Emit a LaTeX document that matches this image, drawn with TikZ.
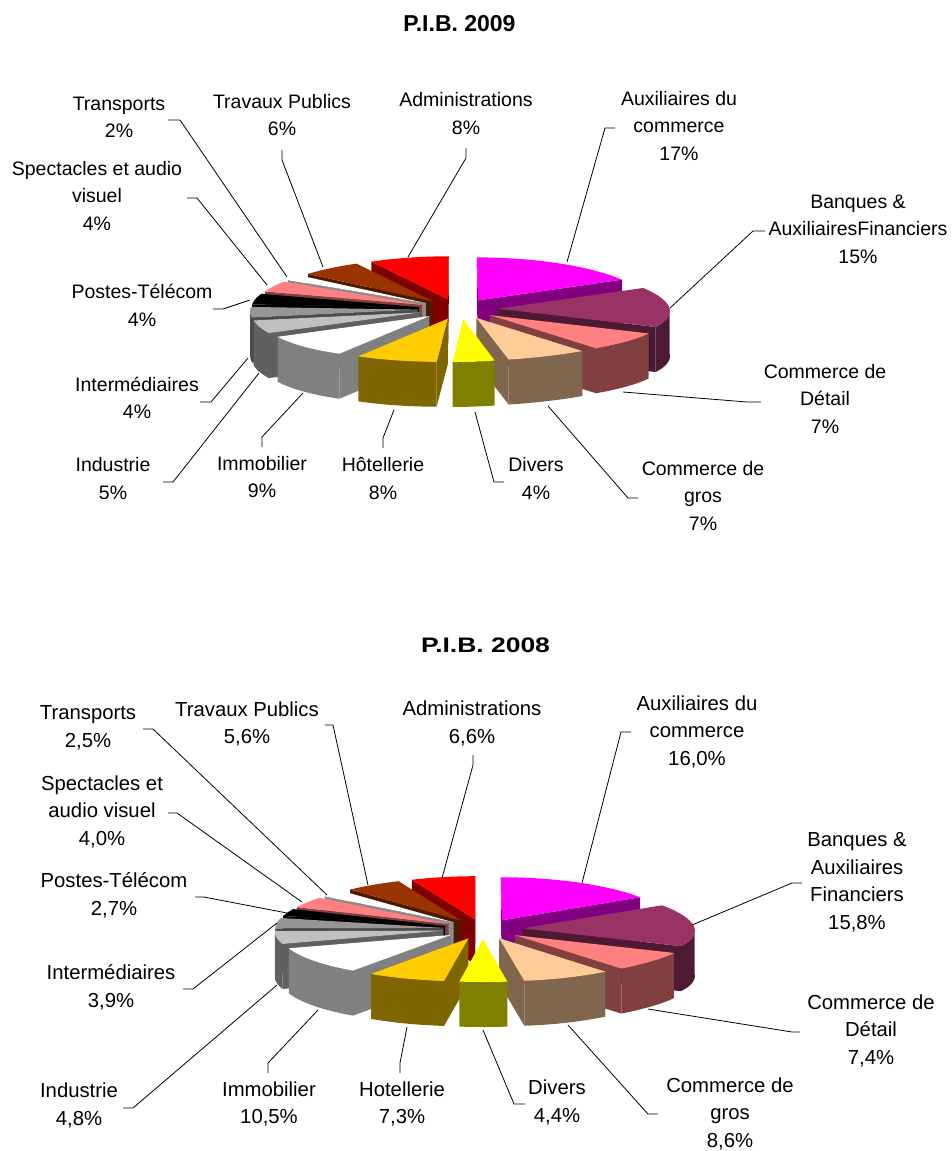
\documentclass[tikz,border=0pt]{standalone}
\usepackage{fontspec}
\setmainfont{Liberation Sans}
\usepackage{graphicx}
\definecolor{AuxT}{HTML}{FF00FF}\definecolor{AuxS}{HTML}{800080}
\definecolor{BaT}{HTML}{993366}\definecolor{BaS}{HTML}{4D1A33}
\definecolor{DeT}{HTML}{FF8080}\definecolor{DeS}{HTML}{804040}
\definecolor{GrT}{HTML}{FFCC99}\definecolor{GrS}{HTML}{80664D}
\definecolor{DiT}{HTML}{FFFF00}\definecolor{DiS}{HTML}{808000}
\definecolor{HoT}{HTML}{FFCC00}\definecolor{HoS}{HTML}{806600}
\definecolor{ImT}{HTML}{FFFFFF}\definecolor{ImS}{HTML}{808080}
\definecolor{IdT}{HTML}{C0C0C0}\definecolor{IdS}{HTML}{606060}
\definecolor{InT}{HTML}{969696}\definecolor{InS}{HTML}{4B4B4B}
\definecolor{PoT}{HTML}{000000}\definecolor{PoS}{HTML}{000000}
\definecolor{SpT}{HTML}{FF8080}\definecolor{SpS}{HTML}{804040}
\definecolor{TrT}{HTML}{FFFFFF}\definecolor{TrS}{HTML}{8C8C8C}
\definecolor{TPT}{HTML}{993300}\definecolor{TPS}{HTML}{4D1A00}
\definecolor{AdT}{HTML}{FF0000}\definecolor{AdS}{HTML}{800000}
\def\PR{172}\def\PQ{0.25}\def\PK{0.06}\def\PE{40}\def\PH{45}
% horizontal correction of the rim, per chart
\def\dA{0}\def\dc{160}\def\dw{35}\def\dB{0}\def\dd{250}\def\dv{35}
\pgfmathdeclarefunction{dlt}{1}{%
  \begingroup
  \pgfmathparse{\dA*exp(-(((#1)-\dc)/\dw)^2)+\dB*exp(-(((#1)-\dd)/\dv)^2)}%
  \pgfmathsmuggle\pgfmathresult
  \endgroup}
\newcommand\pieslice[6]{%
 \begingroup
 \pgfmathsetmacro\cx{#1}\pgfmathsetmacro\cy{#2}%
 \pgfmathsetmacro\mm{(#3+#4)/2}%
 \pgfmathsetmacro\ex{\PE*sin(\mm)}\pgfmathsetmacro\ey{\PE*cos(\mm)}%
 \pgfmathsetmacro\apx{\cx+\ex*(1-\PK*\ey/\PR)}\pgfmathsetmacro\apy{\cy-\ey*\PQ}%
 \pgfmathsetmacro\au{\ex+\PR*sin(#3)}\pgfmathsetmacro\av{\ey+\PR*cos(#3)}%
 \pgfmathsetmacro\ax{\cx+\au*(1-\PK*\av/\PR)+dlt(#3)}\pgfmathsetmacro\ay{\cy-\av*\PQ}%
 \pgfmathsetmacro\bu{\ex+\PR*sin(#4)}\pgfmathsetmacro\bv{\ey+\PR*cos(#4)}%
 \pgfmathsetmacro\bx{\cx+\bu*(1-\PK*\bv/\PR)+dlt(#4)}\pgfmathsetmacro\by{\cy-\bv*\PQ}%
 \pgfmathsetmacro\mpu{\ex+\PR*sin(\mm)}\pgfmathsetmacro\mpv{\ey+\PR*cos(\mm)}%
 \pgfmathsetmacro\mpx{\cx+\mpu*(1-\PK*\mpv/\PR)+dlt(\mm)}\pgfmathsetmacro\mpy{\cy-\mpv*\PQ}%
 \pgfmathsetmacro\ma{(\mpx-\apx)/100}\pgfmathsetmacro\mb{(\mpy-\apy)/100}%
 % start face
 \pgfmathsetmacro\ea{(\ax-\apx)/100}\pgfmathsetmacro\eb{(\ay-\apy)/100}%
 \pgfmathtruncatemacro\vis{(\ea*(\ea*\mb-\eb*\ma))<-0.0001}%
 \ifnum\vis=1 \fill[#6] (\apx,\apy) -- (\ax,\ay) -- (\ax,\ay+\PH) -- (\apx,\apy+\PH) -- cycle;\fi
 % end face
 \pgfmathsetmacro\ea{(\bx-\apx)/100}\pgfmathsetmacro\eb{(\by-\apy)/100}%
 \pgfmathtruncatemacro\vis{(\ea*(\ea*\mb-\eb*\ma))<-0.0001}%
 \ifnum\vis=1 \fill[#6] (\apx,\apy) -- (\bx,\by) -- (\bx,\by+\PH) -- (\apx,\apy+\PH) -- cycle;\fi
 % outer side
 \pgfmathsetmacro\sA{max(#3,90)}\pgfmathsetmacro\sB{min(#4,270)}%
 \pgfmathtruncatemacro\vis{\sB>\sA+0.01}%
 \ifnum\vis=1
  \fill[#6] plot[domain=\sA:\sB,samples=25] ({\cx+(\ex+\PR*sin(\x))*(1-\PK*(\ey+\PR*cos(\x))/\PR)+dlt(\x)},{\cy-(\ey+\PR*cos(\x))*\PQ})
   -- plot[domain=0:1,samples=25] ({\cx+(\ex+\PR*sin(\sB-\x*(\sB-\sA)))*(1-\PK*(\ey+\PR*cos(\sB-\x*(\sB-\sA)))/\PR)+dlt(\sB-\x*(\sB-\sA))},{\cy-(\ey+\PR*cos(\sB-\x*(\sB-\sA)))*\PQ+\PH}) -- cycle;
 \fi
 % top
 \fill[#5] (\apx,\apy) -- plot[domain=#3:#4,samples=30] ({\cx+(\ex+\PR*sin(\x))*(1-\PK*(\ey+\PR*cos(\x))/\PR)+dlt(\x)},{\cy-(\ey+\PR*cos(\x))*\PQ}) -- cycle;
 \endgroup}
\newcommand\leader[4]{\coordinate (#1a) at #2; \coordinate (#1b) at #3; \coordinate (#1c) at #4; \draw[lead] (#1a) -- (#1b) -- (#1c);}
\begin{document}
\begin{tikzpicture}[x=1pt,y=-1pt,
 lbl/.style={font=\fontsize{19.5}{27.5}\selectfont, align=center, inner sep=0pt},
 lbla/.style={font=\fontsize{20.3}{27.5}\selectfont, align=center, inner sep=0pt},
 lead/.style={draw=black, line width=0.8pt}]
\path[use as bounding box] (0,0) rectangle (951,1151);
% ---------- 2009 ----------
\node[inner sep=0pt, font=\fontsize{23}{26}\selectfont\bfseries] (t9) at (459.5,23.5) {P.I.B. 2009};
\def\dA{-15}\def\dc{160}\def\dw{35}\def\dB{6}\def\dd{250}\def\dv{35}
\pieslice{458}{309}{331.2}{360}{AdT}{AdS}
\pieslice{458}{309}{0}{61.2}{AuxT}{AuxS}
\pieslice{458}{309}{309.6}{331.2}{TPT}{TPS}
\pieslice{458}{309}{302.4}{309.6}{TrT}{TrS}
\pieslice{458}{309}{288}{302.4}{SpT}{SpS}
\pieslice{458}{309}{273.6}{288}{PoT}{PoS}
\pieslice{458}{309}{61.2}{115.2}{BaT}{BaS}
\pieslice{458}{309}{259.2}{273.6}{InT}{InS}
\pieslice{458}{309}{241.2}{259.2}{IdT}{IdS}
\pieslice{458}{309}{115.2}{140.4}{DeT}{DeS}
\pieslice{458}{309}{208.8}{241.2}{ImT}{ImS}
\pieslice{458}{309}{140.4}{165.6}{GrT}{GrS}
\pieslice{458}{309}{180}{208.8}{HoT}{HoS}
\pieslice{458}{309}{165.6}{180}{DiT}{DiS}
\node[lbl] (l9tr) at (119,118.5) {\strut Transports\\\strut 2\%};
\node[lbl] (l9tp) at (282,116.5) {\strut Travaux Publics\\\strut 6\%};
\node[lbl] (l9ad) at (466,115) {\strut Administrations\\\strut 8\%};
\node[lbl] (l9au) at (679,127) {\strut Auxiliaires du\\\strut commerce\\\strut 17\%};
\node[lbl] (l9ba) at (858,230) {\strut Banques \&\\\strut AuxiliairesFinanciers\\\strut 15\%};
\node[lbl] (l9sp) at (97,197) {\strut Spectacles et audio\\\strut visuel\\\strut 4\%};
\node[lbl] (l9po) at (142,307) {\strut Postes-Télécom\\\strut 4\%};
\node[lbl] (l9in) at (137,399.5) {\strut Intermédiaires\\\strut 4\%};
\node[lbl] (l9id) at (113,480) {\strut Industrie\\\strut 5\%};
\node[lbl] (l9im) at (262,478.5) {\strut Immobilier\\\strut 9\%};
\node[lbl] (l9ho) at (383,480) {\strut Hôtellerie\\\strut 8\%};
\node[lbl] (l9di) at (536,480) {\strut Divers\\\strut 4\%};
\node[lbl] (l9cg) at (703,497) {\strut Commerce de\\\strut gros\\\strut 7\%};
\node[lbl] (l9cd) at (825,400) {\strut Commerce de\\\strut Détail\\\strut 7\%};
\leader{k9tr}{(168,120)}{(180,120)}{(287,277)}
\leader{k9tp}{(282,150)}{(282,160)}{(323,267)}
\leader{k9ad}{(466,148)}{(466,158)}{(408,257)}
\leader{k9au}{(615,128)}{(605,128)}{(567,262)}
\leader{k9ba}{(765,231)}{(753,231)}{(670,308)}
\leader{k9sp}{(187,198)}{(197,198)}{(267,285)}
\leader{k9po}{(213,309)}{(223,309)}{(250,300)}
\leader{k9in}{(200,402)}{(211,402)}{(248,358)}
\leader{k9id}{(163,482)}{(173,482)}{(259,373)}
\leader{k9im}{(262,447)}{(262,437)}{(303,393)}
\leader{k9ho}{(383,448)}{(383,438)}{(394,410)}
\leader{k9di}{(504,482)}{(494,482)}{(475,412)}
\leader{k9cg}{(638,498)}{(628,498)}{(548,406)}
\leader{k9cd}{(761,402)}{(747,402)}{(623,392)}
% ---------- 2008 ----------
\node[inner sep=0pt, font=\fontsize{21}{26}\selectfont\bfseries] (t8) at (485.5,645.5) {\scalebox{1.26}[1]{P.I.B. 2008}};
\def\dA{-9}\def\dc{140}\def\dw{25}\def\dB{8}\def\dd{235}\def\dv{40}
\pieslice{483}{929}{336.6}{360}{AdT}{AdS}
\pieslice{483}{929}{0}{57.6}{AuxT}{AuxS}
\pieslice{483}{929}{316.4}{336.6}{TPT}{TPS}
\pieslice{483}{929}{307.4}{316.4}{TrT}{TrS}
\pieslice{483}{929}{293}{307.4}{SpT}{SpS}
\pieslice{483}{929}{283.3}{293}{PoT}{PoS}
\pieslice{483}{929}{269.3}{283.3}{InT}{InS}
\pieslice{483}{929}{57.6}{114.5}{BaT}{BaS}
\pieslice{483}{929}{252}{269.3}{IdT}{IdS}
\pieslice{483}{929}{214.2}{252}{ImT}{ImS}
\pieslice{483}{929}{114.5}{141.1}{DeT}{DeS}
\pieslice{483}{929}{141.1}{172.1}{GrT}{GrS}
\pieslice{483}{929}{187.9}{214.2}{HoT}{HoS}
\pieslice{483}{929}{172.1}{187.9}{DiT}{DiS}
\node[lbla] (l8tr) at (88,728) {\strut Transports\\\strut 2,5\%};
\node[lbla] (l8tp) at (247,724.5) {\strut Travaux Publics\\\strut 5,6\%};
\node[lbla] (l8ad) at (472,724) {\strut Administrations\\\strut 6,6\%};
\node[lbla] (l8au) at (697,732) {\strut Auxiliaires du\\\strut commerce\\\strut 16,0\%};
\node[lbla] (l8ba) at (857,882.5) {\strut Banques \&\\\strut Auxiliaires\\\strut Financiers\\\strut 15,8\%};
\node[lbla] (l8sp) at (102,812) {\strut Spectacles et\\\strut audio visuel\\\strut 4,0\%};
\node[lbla] (l8po) at (114,896) {\strut Postes-Télécom\\\strut 2,7\%};
\node[lbla] (l8in) at (111,988) {\strut Intermédiaires\\\strut 3,9\%};
\node[lbla] (l8id) at (79,1106) {\strut Industrie\\\strut 4,8\%};
\node[lbla] (l8im) at (269,1104.5) {\strut Immobilier\\\strut 10,5\%};
\node[lbla] (l8ho) at (402,1104.5) {\strut Hotellerie\\\strut 7,3\%};
\node[lbla] (l8di) at (557,1103) {\strut Divers\\\strut 4,4\%};
\node[lbla] (l8cg) at (730,1114) {\strut Commerce de\\\strut gros\\\strut 8,6\%};
\node[lbla] (l8cd) at (871,1031) {\strut Commerce de\\\strut Détail\\\strut 7,4\%};
\leader{k8tr}{(143,729)}{(153,729)}{(327,895)}
\leader{k8tp}{(325,725)}{(333,725)}{(368,885)}
\leader{k8ad}{(473,755)}{(473,765)}{(442,878)}
\leader{k8au}{(631,732)}{(621,732)}{(582,883)}
\leader{k8ba}{(802,883)}{(792,883)}{(692,925)}
\leader{k8sp}{(168,813)}{(177,813)}{(302,902)}
\leader{k8po}{(195,897)}{(204,897)}{(287,913)}
\leader{k8in}{(183,989)}{(193,989)}{(277,923)}
\leader{k8id}{(123,1108)}{(133,1108)}{(277,985)}
\leader{k8im}{(268,1073)}{(268,1063)}{(318,1010)}
\leader{k8ho}{(400,1073)}{(400,1063)}{(407,1027)}
\leader{k8di}{(525,1104)}{(514,1104)}{(483,1030)}
\leader{k8cg}{(658,1114)}{(648,1114)}{(568,1025)}
\leader{k8cd}{(800,1032)}{(792,1032)}{(648,1009)}
\end{tikzpicture}
\end{document}
